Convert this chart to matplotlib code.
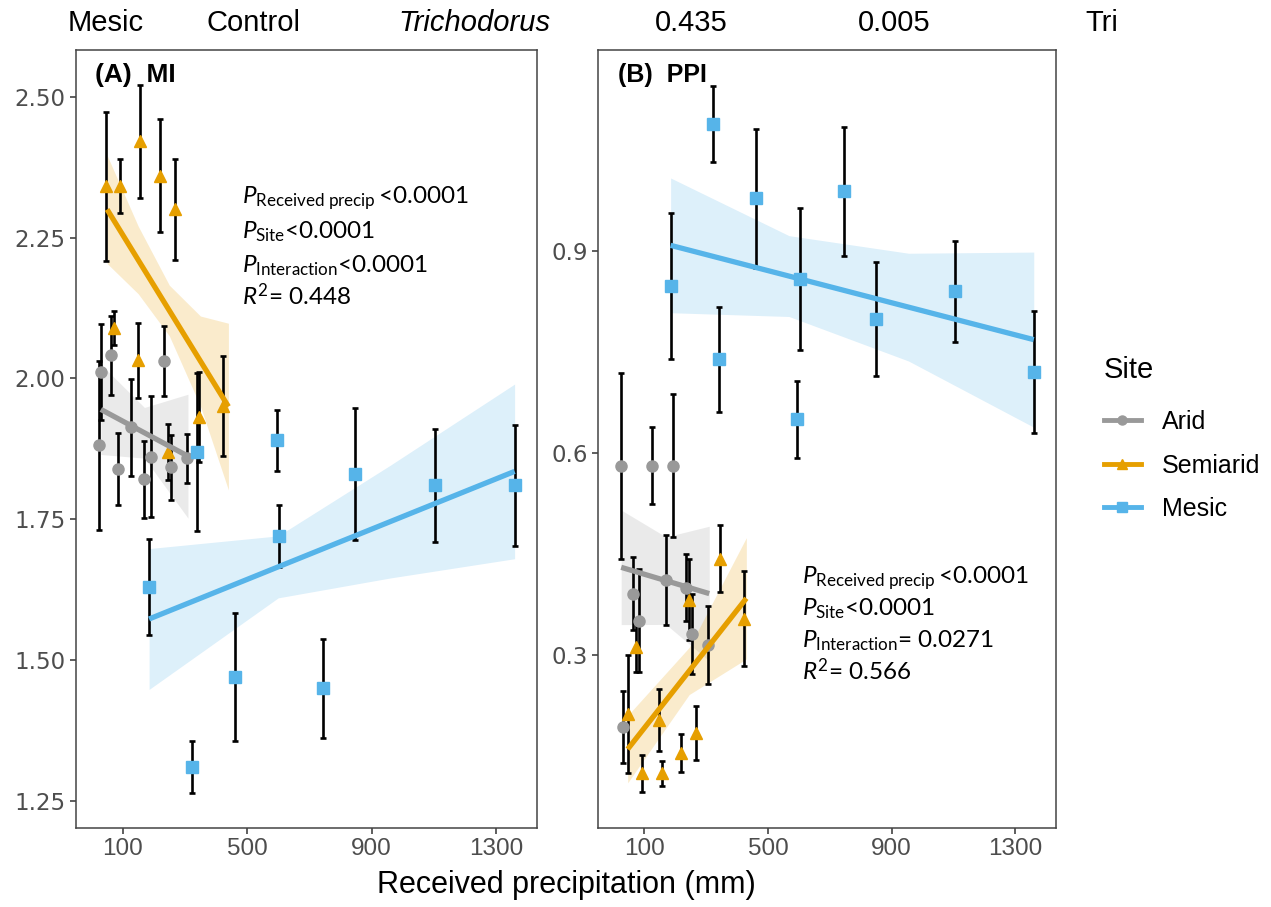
import matplotlib.pyplot as plt
import numpy as np
from matplotlib.lines import Line2D

plt.rcParams['font.family'] = ['Liberation Sans', 'DejaVu Sans']
plt.rcParams['mathtext.fontset'] = 'custom'
plt.rcParams['mathtext.rm'] = 'Lato'
plt.rcParams['mathtext.it'] = 'Lato:italic'

# received precipitation (mm) per site
sites = ["Arid", "Semiarid", "Mesic"]
x_arid = [25, 30, 62, 84, 126, 170, 192, 234, 254, 307]
x_semi = [46, 72, 92, 148, 156, 220, 245, 268, 346, 422]
x_mesic = [185, 322, 340, 462, 595, 604, 745, 848, 1105, 1360]

# (A) MI means and error
mi_arid = [1.881, 2.011, 2.041, 1.840, 1.913, 1.821, 1.861, 2.031, 1.842, 1.858]
mi_arid_se = [0.15, 0.085, 0.07, 0.064, 0.086, 0.068, 0.107, 0.062, 0.057, 0.044]
mi_semi = [2.341, 2.090, 2.341, 2.032, 2.421, 2.360, 1.869, 2.300, 1.932, 1.951]
mi_semi_se = [0.132, 0.03, 0.048, 0.067, 0.10, 0.10, 0.05, 0.09, 0.08, 0.088]
mi_mesic = [1.63, 1.31, 1.87, 1.47, 1.89, 1.72, 1.45, 1.83, 1.81, 1.81]
mi_mesic_se = [0.085, 0.046, 0.14, 0.114, 0.054, 0.055, 0.088, 0.117, 0.10, 0.107]

# (B) PPI means and error
ppi_arid = [0.581, 0.193, 0.391, 0.351, 0.581, 0.411, 0.581, 0.400, 0.331, 0.315]
ppi_arid_se = [0.138, 0.054, 0.054, 0.077, 0.057, 0.067, 0.106, 0.05, 0.06, 0.058]
ppi_semi = [0.212, 0.312, 0.124, 0.204, 0.124, 0.154, 0.382, 0.184, 0.443, 0.354]
ppi_semi_se = [0.088, 0.038, 0.028, 0.046, 0.018, 0.028, 0.06, 0.04, 0.05, 0.07]
ppi_mesic = [0.848, 1.088, 0.739, 0.978, 0.650, 0.858, 0.988, 0.799, 0.840, 0.720]
ppi_mesic_se = [0.108, 0.056, 0.078, 0.103, 0.057, 0.106, 0.096, 0.085, 0.075, 0.091]

# fitted lines (start/end) and confidence band half widths
fit_x = {"Arid": [30, 310], "Semiarid": [50, 440], "Mesic": [185, 1360]}
mi_fit = {"Arid": [1.945, 1.862], "Semiarid": [2.30, 1.95], "Mesic": [1.573, 1.835]}
mi_band_x = {"Arid": [30, 170, 310], "Semiarid": [50, 150, 250, 350, 440], "Mesic": [185, 600, 960, 1360]}
mi_band_hw = {"Arid": [0.08, 0.045, 0.11], "Semiarid": [0.096, 0.06, 0.045, 0.08, 0.148],
              "Mesic": [0.125, 0.055, 0.10, 0.155]}
ppi_fit_x = {"Arid": [25, 310], "Semiarid": [46, 430], "Mesic": [185, 1360]}
ppi_fit = {"Arid": [0.430, 0.391], "Semiarid": [0.16, 0.384], "Mesic": [0.908, 0.768]}
ppi_band_x = {"Arid": [25, 170, 310], "Semiarid": [46, 245, 430], "Mesic": [185, 568, 955, 1360]}
ppi_band_hw = {"Arid": [0.085, 0.065, 0.10], "Semiarid": [0.05, 0.035, 0.09],
               "Mesic": [0.10, 0.06, 0.08, 0.13]}

colors = {"Arid": "#999999", "Semiarid": "#E69F00", "Mesic": "#56B4E9"}
markers = {"Arid": "o", "Semiarid": "^", "Mesic": "s"}
xs = {"Arid": x_arid, "Semiarid": x_semi, "Mesic": x_mesic}

W, H = 1271, 907
fig = plt.figure(figsize=(W / 100, H / 100), dpi=100)
ax1 = fig.add_axes([76 / W, 1 - 828 / H, (537 - 76) / W, 778 / H])
ax2 = fig.add_axes([598 / W, 1 - 828 / H, (1056 - 598) / W, 778 / H])


def draw_panel(ax, ys, errs, fx, fits, bx_all, hw_all):
    for s in sites:
        c = colors[s]
        x0, x1 = fx[s]
        y0, y1 = fits[s]
        bx = np.array(bx_all[s], dtype=float)
        ly = y0 + (bx - x0) * (y1 - y0) / (x1 - x0)
        hw = np.array(hw_all[s])
        ax.fill_between(bx, ly - hw, ly + hw, color=c, alpha=0.2, lw=0, zorder=1)
        ax.errorbar(xs[s], ys[s], yerr=errs[s], fmt='none', ecolor='black',
                    elinewidth=1.9, capsize=2, capthick=1.9, zorder=2)
        ax.plot(xs[s], ys[s], markers[s], color=c, ms=8, mec=c, zorder=3)
        ax.plot([x0, x1], [y0, y1], color=c, lw=3.8, solid_capstyle='butt', zorder=4)
    ax.set_xlim(-50, 1432)
    ax.set_xticks([100, 500, 900, 1300])
    ax.tick_params(labelcolor='#4D4D4D', color='#333333', length=4, width=1.1)
    ax.tick_params(axis='x', labelsize=17.5)
    ax.tick_params(axis='y', labelsize=16.5)
    for sp in ax.spines.values():
        sp.set_color('#444444')
        sp.set_linewidth(1.1)


draw_panel(ax1,
           {"Arid": mi_arid, "Semiarid": mi_semi, "Mesic": mi_mesic},
           {"Arid": mi_arid_se, "Semiarid": mi_semi_se, "Mesic": mi_mesic_se},
           fit_x, mi_fit, mi_band_x, mi_band_hw)
ax1.set_ylim(1.202, 2.583)
ax1.set_yticks([1.25, 1.50, 1.75, 2.00, 2.25, 2.50])
ax1.set_yticklabels(["1.25", "1.50", "1.75", "2.00", "2.25", "2.50"], family='DejaVu Sans')

draw_panel(ax2,
           {"Arid": ppi_arid, "Semiarid": ppi_semi, "Mesic": ppi_mesic},
           {"Arid": ppi_arid_se, "Semiarid": ppi_semi_se, "Mesic": ppi_mesic_se},
           ppi_fit_x, ppi_fit, ppi_band_x, ppi_band_hw)
ax2.set_ylim(0.043, 1.198)
ax2.set_yticks([0.3, 0.6, 0.9])
ax2.set_yticklabels(["0.3", "0.6", "0.9"], family='DejaVu Sans')

ax1.text(0.041, 0.968, "(A)  MI", transform=ax1.transAxes, fontsize=19,
         fontweight='bold', va='center', ha='left')
ax2.text(0.044, 0.968, "(B)  PPI", transform=ax2.transAxes, fontsize=18,
         fontweight='bold', va='center', ha='left')

stats_a = [r"$P_{\mathrm{Received\ precip}}\,$<0.0001",
           r"$P_{\mathrm{Site}}$<0.0001",
           r"$P_{\mathrm{Interaction}}$<0.0001",
           r"$R^{2}$= 0.448"]
stats_b = [r"$P_{\mathrm{Received\ precip}}\,$<0.0001",
           r"$P_{\mathrm{Site}}$<0.0001",
           r"$P_{\mathrm{Interaction}}$= 0.0271",
           r"$R^{2}$= 0.566"]
for txt, yb in zip(stats_a, [203, 238, 272, 305]):
    fig.text(242 / W, 1 - yb / H, txt, fontsize=17.5, family='Lato', va='baseline', ha='left')
for txt, yb in zip(stats_b, [583, 615, 647, 680]):
    fig.text(802 / W, 1 - yb / H, txt, fontsize=17.5, family='Lato', va='baseline', ha='left')

fig.text(566 / W, 1 - 885 / H, "Received precipitation (mm)", fontsize=22,
         ha='center', va='center')

# stray header row above the panels
top_labels = ["Mesic", "Control", "Trichodorus", "0.435", "0.005", "Tri"]
top_x = [68, 207, 398, 655, 858, 1085]
for lab, tx in zip(top_labels, top_x):
    fig.text(tx / W, 1 - 23 / H, lab, fontsize=21, ha='left', va='center',
             style='italic' if lab == "Trichodorus" else 'normal')

handles = [Line2D([0], [0], color=colors[s], lw=3.5, marker=markers[s], ms=6.5,
                  mec=colors[s]) for s in sites]
leg = fig.legend(handles, sites, loc='upper left', bbox_to_anchor=(1081 / W, 1 - 334 / H),
                 frameon=False, fontsize=18, title="Site", title_fontsize=21,
                 handlelength=1.5, labelspacing=0.78, handletextpad=0.85)
leg._legend_box.align = "left"
leg._legend_box.sep = 18.5

fig.savefig("out.png", dpi=100)
